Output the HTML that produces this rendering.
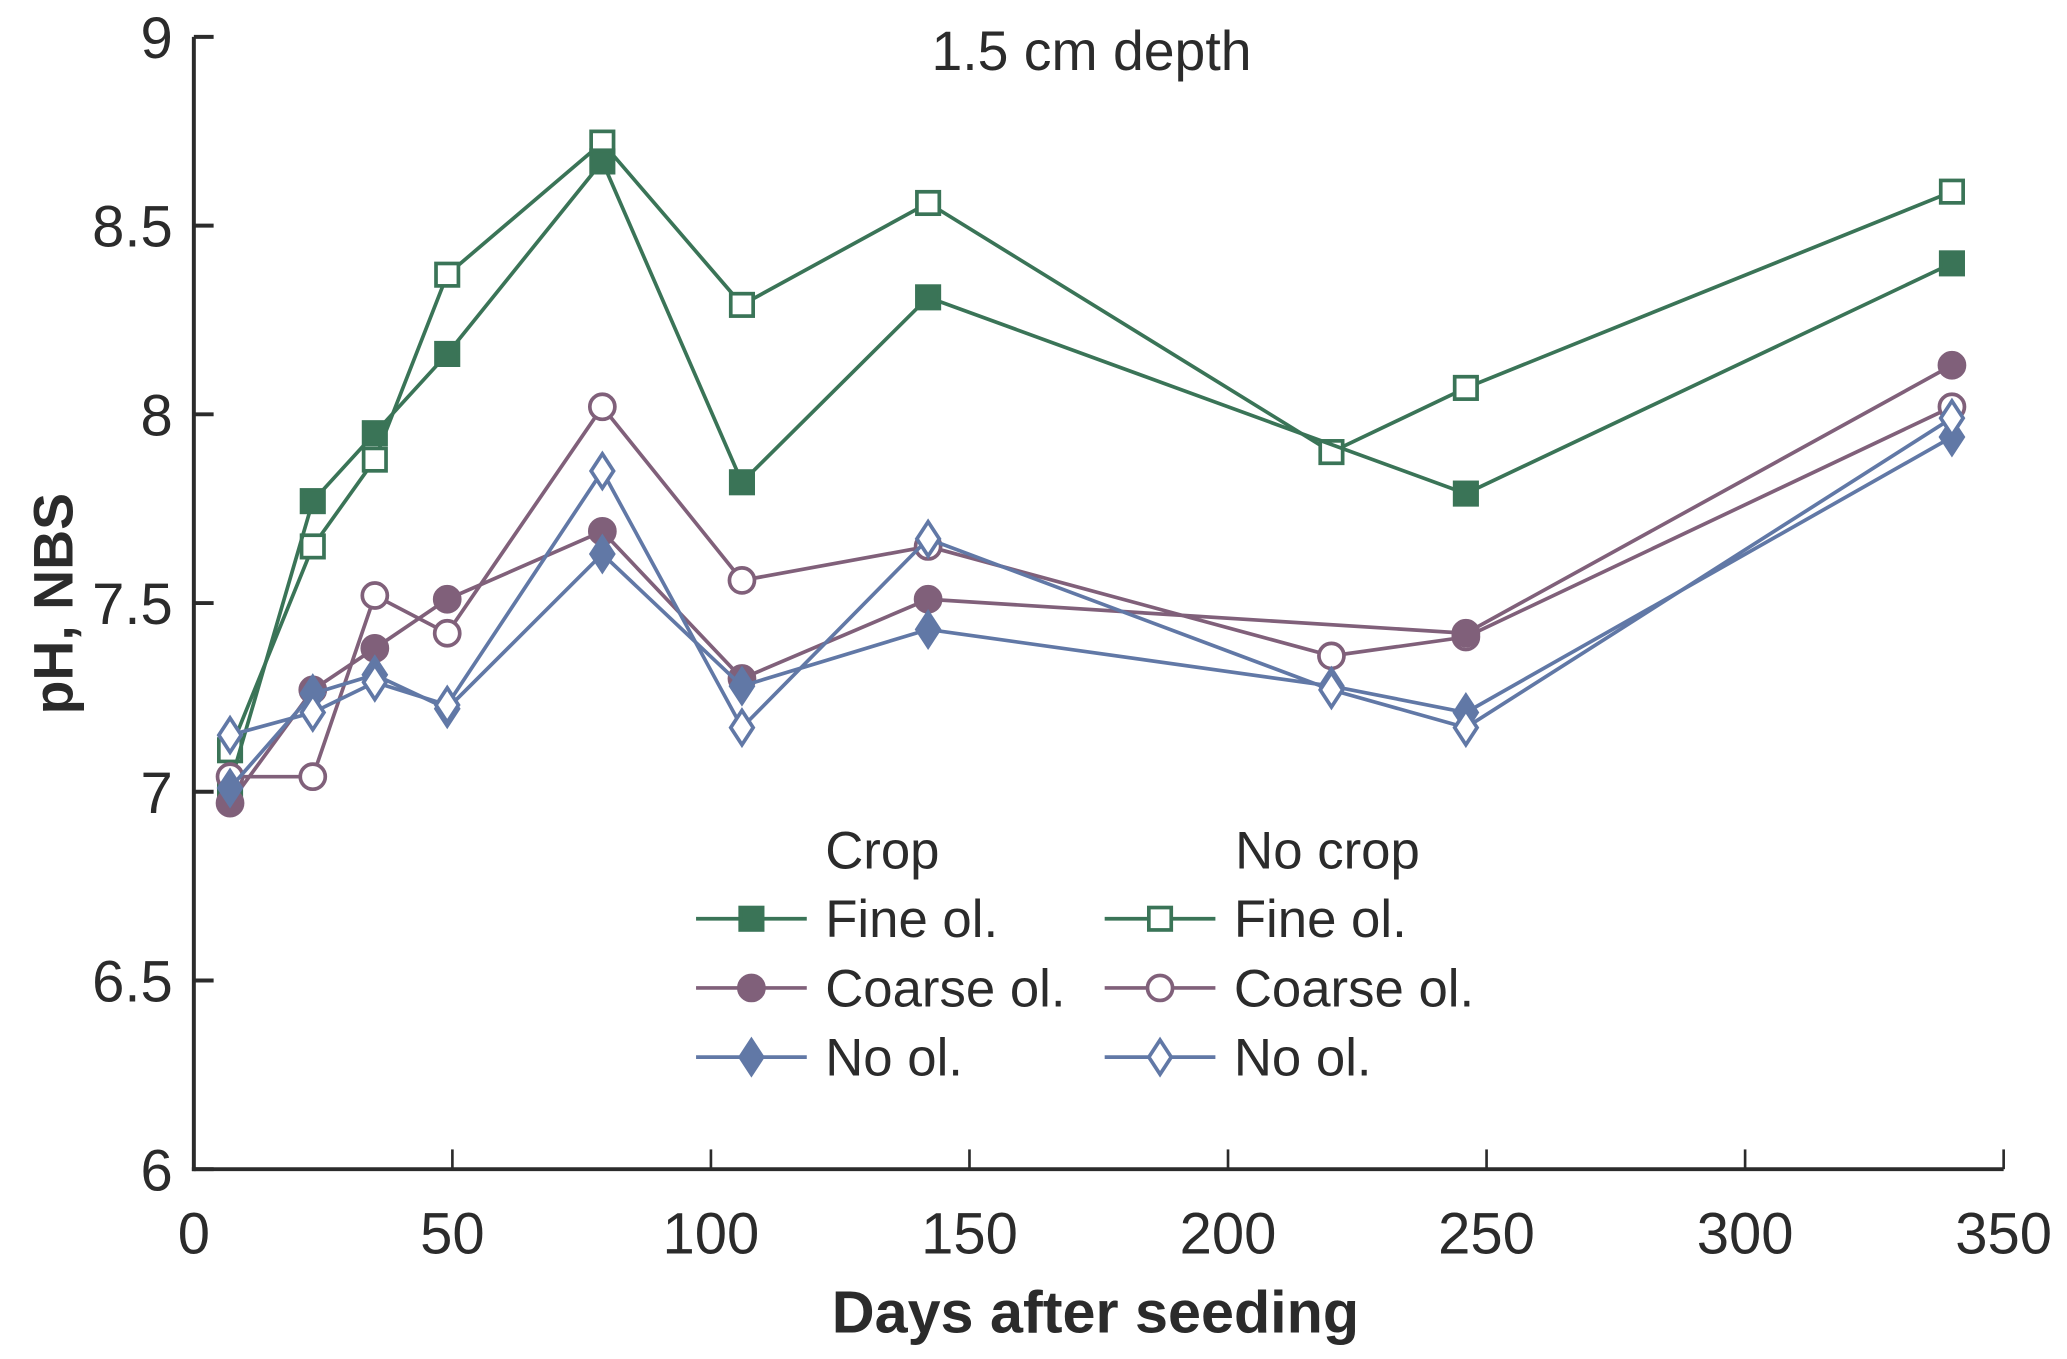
<!DOCTYPE html>
<html><head><meta charset="utf-8"><style>
html,body{margin:0;padding:0;background:#fff}
svg{display:block}
text{font-family:"Liberation Sans",sans-serif;fill:#2b2b2b}
</style></head><body>
<svg id="chart" width="2067" height="1359" viewBox="0 0 1568 1031" xmlns="http://www.w3.org/2000/svg">
<g id="axes"></g><g id="series"></g><g id="legend"></g>
</svg>
<script>
const days = [7, 23, 35, 49, 79, 106, 142, 220, 246, 340];
const fineCrop = [7.02, 7.77, 7.95, 8.16, 8.67, 7.82, 8.31, null, 7.79, 8.40];
const fineNoCrop = [7.11, 7.65, 7.88, 8.37, 8.72, 8.29, 8.56, 7.90, 8.07, 8.59];
const coarseCrop = [6.97, 7.27, 7.38, 7.51, 7.69, 7.30, 7.51, null, 7.42, 8.13];
const coarseNoCrop = [7.04, 7.04, 7.52, 7.42, 8.02, 7.56, 7.65, 7.36, 7.41, 8.02];
const noOlCrop = [7.01, 7.26, 7.31, 7.22, 7.63, 7.28, 7.43, 7.28, 7.21, 7.94];
const noOlNoCrop = [7.15, 7.21, 7.29, 7.23, 7.85, 7.17, 7.67, 7.27, 7.17, 7.99];
const xTicks = [0, 50, 100, 150, 200, 250, 300, 350];
const yTicks = [6, 6.5, 7, 7.5, 8, 8.5, 9];

const NS = "http://www.w3.org/2000/svg";
const X0 = 147, X1 = 1520, Y0 = 887, Y1 = 28;
const xs = d => X0 + (d - 0) / 350 * (X1 - X0);
const ys = v => Y0 - (v - 6) / 3 * (Y0 - Y1);
function mk(tag, attrs, parent, txt) {
  const e = document.createElementNS(NS, tag);
  for (const k in attrs) e.setAttribute(k, attrs[k]);
  if (txt !== undefined) e.textContent = txt;
  parent.appendChild(e); return e;
}
const axes = document.getElementById('axes');
let e;
e = mk('line', {x1: X0, y1: Y1, x2: X0, y2: Y0 + 1.5, stroke: '#2b2b2b', 'stroke-width': 3}, axes);
 
e = mk('line', {x1: X0 - 1.5, y1: Y0, x2: X1, y2: Y0, stroke: '#2b2b2b', 'stroke-width': 3}, axes);
 
yTicks.forEach(t => {
  mk('line', {x1: X0, x2: X0 + 15, y1: ys(t), y2: ys(t), stroke: '#2b2b2b', 'stroke-width': 3}, axes);
  e = mk('text', {x: X0 - 16, y: ys(t) + 16, 'text-anchor': 'end', 'font-size': 44}, axes, String(t));
   
});
xTicks.forEach(t => {
  mk('line', {x1: xs(t), x2: xs(t), y1: Y0, y2: Y0 - 15, stroke: '#2b2b2b', 'stroke-width': 2}, axes);
  e = mk('text', {x: xs(t), y: 951, 'text-anchor': 'middle', 'font-size': 44}, axes, String(t));
   
});
e = mk('text', {x: 831, y: 1011, 'text-anchor': 'middle', 'font-size': 45, 'font-weight': 'bold'}, axes, 'Days after seeding');
 
e = mk('text', {x: 0, y: 0, 'text-anchor': 'middle', 'font-size': 42, 'font-weight': 'bold', transform: 'translate(55,458) rotate(-90)'}, axes, 'pH, NBS');
 
e = mk('text', {x: 828, y: 53, 'text-anchor': 'middle', 'font-size': 42}, axes, '1.5 cm depth');
 

const G = '#3a7457', P = '#80607a', B = '#6178a6';
function marker(g, shape, filled, color, x, y) {
  const fill = filled ? color : '#fff';
  const sw = 2.8;
  if (shape === 'square') return mk('rect', {x: x - 8.5, y: y - 8.5, width: 17, height: 17, fill, stroke: color, 'stroke-width': sw}, g);
  if (shape === 'circle') return mk('circle', {cx: x, cy: y, r: 9.5, fill, stroke: color, 'stroke-width': sw}, g);
  return mk('polygon', {points: `${x},${y-13} ${x+8.5},${y} ${x},${y+13} ${x-8.5},${y}`, fill, stroke: color, 'stroke-width': sw}, g);
}
const seriesDefs = [
  ['fine-no-crop', fineNoCrop, 'square', false, G],
  ['fine-crop', fineCrop, 'square', true, G],
  ['coarse-no-crop', coarseNoCrop, 'circle', false, P],
  ['coarse-crop', coarseCrop, 'circle', true, P],
  ['no-ol-crop', noOlCrop, 'diamond', true, B],
  ['no-ol-no-crop', noOlNoCrop, 'diamond', false, B],
];
const sg = document.getElementById('series');
seriesDefs.forEach(([name, vals, shape, filled, color]) => {
  const g = mk('g', {}, sg);
  
  
  const pts = [];
  vals.forEach((v, i) => { if (v !== null) pts.push([xs(days[i]), ys(v)]); });
  const line = mk('polyline', {points: pts.map(p => p.join(',')).join(' '), fill: 'none', stroke: color, 'stroke-width': 2.8}, g);
  
  
  pts.forEach(p => {
    const m = marker(g, shape, filled, color, p[0], p[1]);
    
    
  });
});

const lg = document.getElementById('legend');


e = mk('text', {x: 626, y: 659, 'font-size': 40}, lg, 'Crop');
 
e = mk('text', {x: 937, y: 659, 'font-size': 40}, lg, 'No crop');
 
const rows = [['Fine ol.', 'square', G], ['Coarse ol.', 'circle', P], ['No ol.', 'diamond', B]];
rows.forEach(([label, shape, color], r) => {
  const y = 697 + r * 52.5;
  [[528, true], [838, false]].forEach(([lx, filled]) => {
    const g = mk('g', {}, lg);
    
    
    mk('line', {x1: lx, x2: lx + 84, y1: y, y2: y, stroke: color, 'stroke-width': 2.8}, g);
    marker(g, shape, filled, color, lx + 42, y);
    mk('text', {x: lx + 98, y: y + 14, 'font-size': 40}, g, label);
  });
});
</script>
</body></html>
